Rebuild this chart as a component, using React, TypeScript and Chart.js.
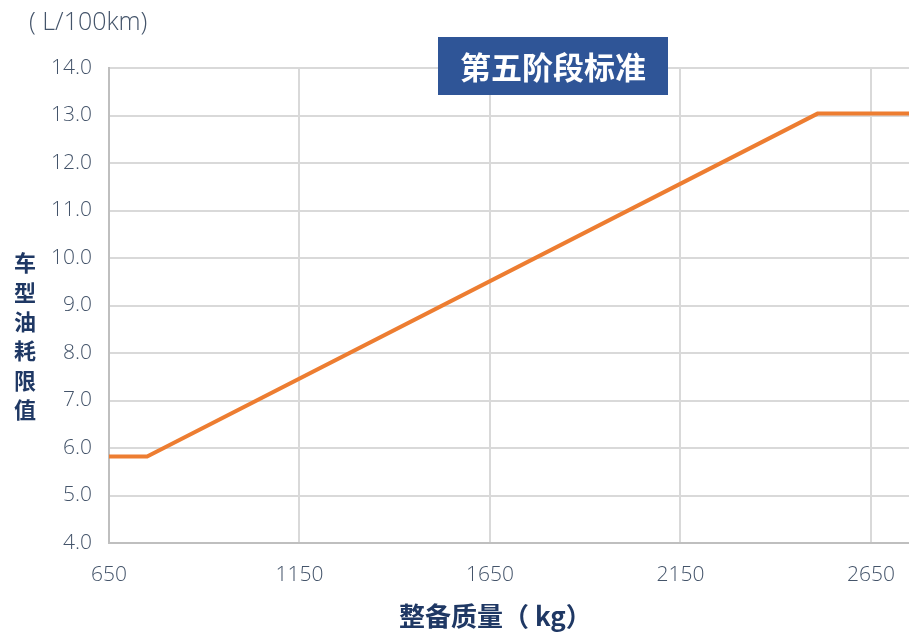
import { useEffect, useRef } from "react";
import { Chart, registerables } from "chart.js";

Chart.register(...registerables);

const massKg = [650, 750, 2510, 2750];
const limitL = [5.82, 5.82, 13.04, 13.04];
const xTickValues = [650, 1150, 1650, 2150, 2650];
const yTickValues = [4, 5, 6, 7, 8, 9, 10, 11, 12, 13, 14];
const chartTitle = "第五阶段标准";
const yTitleChars = ["车", "型", "油", "耗", "限", "值"];
const xTitle = "整备质量（ kg）";
const unitLabel = "( L/100km)";

const TICK_COLOR = "#44546a";
const TITLE_COLOR = "#1f3864";
const CJK = '"Noto Sans CJK SC", "Noto Sans", sans-serif';
const LATIN = '"Open Sans", "Noto Sans", sans-serif';

const decorPlugin = {
  id: "decor",
  afterDraw(chart: any) {
    const ctx = chart.ctx as CanvasRenderingContext2D;
    ctx.save();
    // unit label
    ctx.fillStyle = TICK_COLOR;
    ctx.font = `300 25px ${LATIN}`;
    ctx.textAlign = "left";
    ctx.textBaseline = "middle";
    ctx.fillText(unitLabel, 29, 23);
    // title box
    ctx.fillStyle = "#2f5597";
    ctx.fillRect(438, 37, 230, 58);
    ctx.fillStyle = "#ffffff";
    ctx.font = `bold 31px ${CJK}`;
    ctx.textAlign = "center";
    ctx.textBaseline = "middle";
    ctx.fillText(chartTitle, 553, 67);
    // y title stacked
    ctx.fillStyle = TITLE_COLOR;
    ctx.font = `bold 22px ${CJK}`;
    yTitleChars.forEach((c, i) => {
      ctx.fillText(c, 25, 263 + i * 29.3);
    });
    // x title
    ctx.textAlign = "left";
    ctx.font = `bold 26px ${CJK}`;
    ctx.fillText(xTitle, 399, 616);
    ctx.restore();
  },
};

export default function App() {
  const ref = useRef<HTMLCanvasElement>(null);
  useEffect(() => {
    document.body.style.margin = "0";
    const chart = new Chart(ref.current!, {
      type: "line",
      data: {
        datasets: [
          {
            data: massKg.map((x, i) => ({ x, y: limitL[i] })),
            borderColor: "#ed7d31",
            borderWidth: 4,
            pointRadius: 0,
            tension: 0,
          },
        ],
      },
      options: {
        animation: false,
        responsive: false,
        layout: { padding: { top: 68, right: 0, left: 0, bottom: 0 } },
        plugins: { legend: { display: false }, tooltip: { enabled: false } },
        scales: {
          x: {
            type: "linear",
            min: 650,
            max: 2750,
            afterBuildTicks: (s: any) => {
              s.ticks = xTickValues.map((v) => ({ value: v }));
            },
            afterFit: (s: any) => {
              s.height = 90;
              s.paddingRight = 0;
            },
            grid: { color: "#d9d9d9", lineWidth: 2, drawTicks: false },
            border: { color: "#bfbfbf", width: 2 },
            ticks: {
              color: TICK_COLOR,
              font: { family: LATIN, size: 21, weight: "300" },
              padding: 19,
              maxRotation: 0,
              callback: (v: any) => String(v),
            },
          },
          y: {
            min: 4,
            max: 14,
            afterBuildTicks: (s: any) => {
              s.ticks = yTickValues.map((v) => ({ value: v }));
            },
            afterFit: (s: any) => {
              s.width = 109;
            },
            grid: { color: "#d9d9d9", lineWidth: 2, drawTicks: false },
            border: { color: "#bfbfbf", width: 2 },
            ticks: {
              color: TICK_COLOR,
              font: { family: LATIN, size: 21, weight: "300" },
              padding: 17,
              callback: (v: any) => Number(v).toFixed(1),
            },
          },
        },
      },
      plugins: [decorPlugin],
    });
    return () => chart.destroy();
  }, []);
  return (
    <div style={{ width: 909, height: 633, position: "relative" }}>
      <canvas ref={ref} width={909} height={633} style={{ width: 909, height: 633, display: "block" }} />
    </div>
  );
}
